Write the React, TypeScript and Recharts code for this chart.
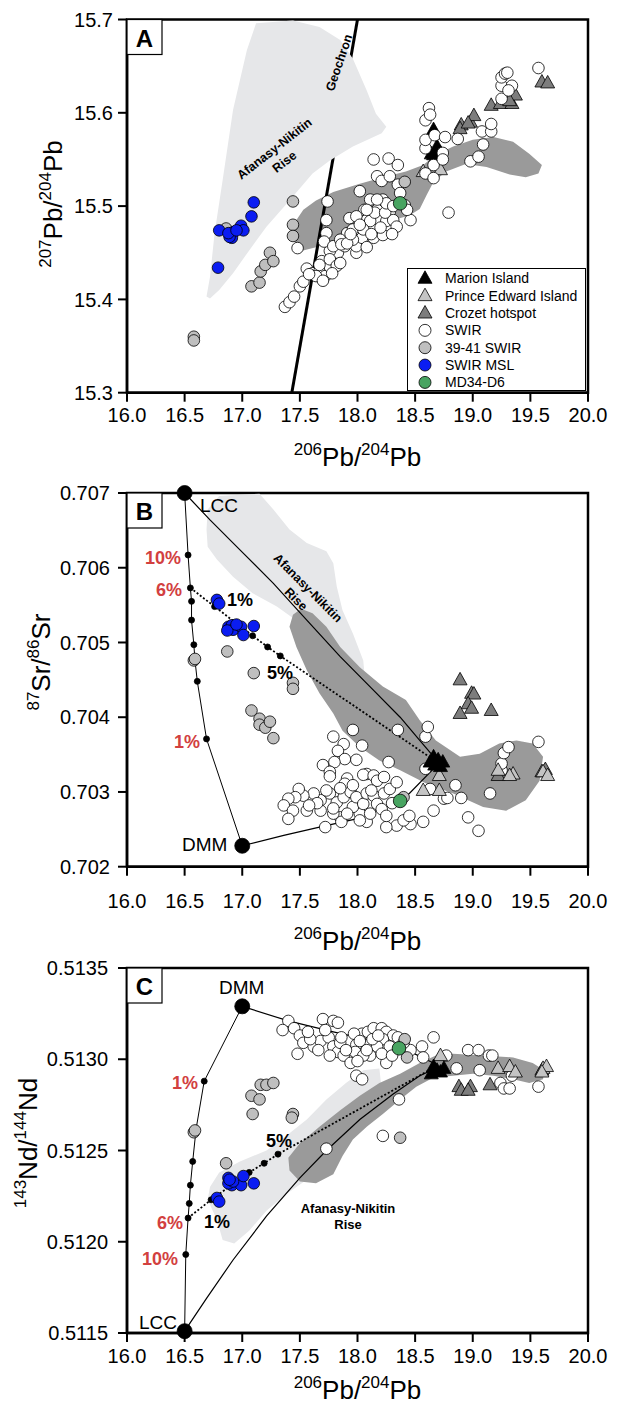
import React from "react";
import { ScatterChart, Scatter, XAxis, YAxis, ReferenceArea, Legend } from "recharts";

const FONT = "'Liberation Sans', Arial, Helvetica, sans-serif";
const RED = "#d2403f";
const LIGHT = "#e6e7e9";
const DARK = "#9a9a9a";

// axis ticks
const PB206_TICKS = [16, 16.5, 17, 17.5, 18, 18.5, 19, 19.5, 20];
const PB207_TICKS = [15.3, 15.4, 15.5, 15.6, 15.7];
const SR_TICKS = [0.702, 0.703, 0.704, 0.705, 0.706, 0.707];
const ND_TICKS = [0.5115, 0.512, 0.5125, 0.513, 0.5135];

// ---------- panel A: 207Pb/204Pb vs 206Pb/204Pb ----------
const SWIR_A = [
  [17.37, 15.392], [17.41, 15.397], [17.45, 15.403], [17.5, 15.414], [17.53, 15.419], [17.56, 15.433],
  [17.48, 15.455], [17.61, 15.428], [17.67, 15.43], [17.69, 15.441], [17.72, 15.425], [17.76, 15.435],
  [17.79, 15.444], [17.83, 15.45], [17.76, 15.452], [17.73, 15.471], [17.71, 15.462], [17.73, 15.485],
  [17.74, 15.505], [17.89, 15.457], [17.91, 15.471], [17.93, 15.487], [17.99, 15.45], [17.99, 15.457],
  [18.0, 15.475], [18.04, 15.466], [18.08, 15.456], [18.02, 15.516], [18.06, 15.496], [18.11, 15.507],
  [18.08, 15.485], [18.14, 15.478], [18.14, 15.466], [18.17, 15.496], [18.19, 15.485], [18.22, 15.507],
  [18.22, 15.469], [18.25, 15.484], [18.28, 15.494], [18.31, 15.485], [18.34, 15.478], [18.35, 15.523],
  [18.37, 15.514], [18.17, 15.532], [18.21, 15.527], [18.28, 15.532], [18.27, 15.551], [18.35, 15.544],
  [18.14, 15.55], [18.41, 15.501], [18.46, 15.485], [18.43, 15.496], [18.59, 15.535], [18.66, 15.53],
  [18.66, 15.544], [18.59, 15.562], [18.59, 15.571], [18.59, 15.592], [18.62, 15.605], [18.63, 15.598],
  [18.67, 15.576], [18.74, 15.557], [18.76, 15.574], [18.74, 15.55], [18.87, 15.572], [18.79, 15.493],
  [18.98, 15.548], [19.05, 15.553], [19.09, 15.566], [19.08, 15.58], [19.16, 15.58], [19.16, 15.588],
  [19.25, 15.615], [19.25, 15.629], [19.25, 15.638], [19.28, 15.642], [19.3, 15.643], [19.34, 15.629],
  [19.31, 15.624], [19.57, 15.648], [17.79, 15.457], [17.85, 15.464], [17.96, 15.464], [17.86, 15.459],
  [17.76, 15.443], [17.82, 15.436], [17.85, 15.439], [17.99, 15.489], [18.11, 15.484], [18.15, 15.493],
  [18.24, 15.493], [18.25, 15.503], [18.31, 15.5], [17.91, 15.46], [17.96, 15.475], [18.05, 15.475],
  [18.08, 15.496], [18.17, 15.507], [17.67, 15.437], [17.64, 15.425], [17.58, 15.427], [17.7, 15.42],
  [17.78, 15.428], [17.94, 15.47], [18.02, 15.48], [18.12, 15.47], [18.2, 15.477], [18.3, 15.47],
];
const GREY_A = [
  [16.58, 15.36], [16.58, 15.356], [17.08, 15.414], [17.15, 15.418], [17.16, 15.43], [17.2, 15.437],
  [17.24, 15.45], [17.27, 15.441], [17.44, 15.505], [17.44, 15.48], [17.44, 15.468], [18.41, 15.526],
  [16.86, 15.476],
];
const MSL_A = [
  [16.8, 15.474], [16.79, 15.434], [17.1, 15.504], [17.08, 15.489], [16.99, 15.479], [17.01, 15.474],
  [16.92, 15.472], [16.91, 15.466], [16.89, 15.467], [16.88, 15.471], [16.95, 15.474],
];
const MD34_A = [[18.37, 15.503]];
const MARION_A = [[18.66, 15.582], [18.69, 15.564], [18.66, 15.555], [18.72, 15.557], [18.64, 15.556]];
const PEI_A = [[18.72, 15.539], [18.57, 15.537], [18.68, 15.553]];
const CROZET_A = [
  [18.9, 15.587], [18.89, 15.583], [18.98, 15.59], [19.01, 15.597], [18.96, 15.589], [19.16, 15.608],
  [19.24, 15.61], [19.34, 15.61], [19.37, 15.619], [19.6, 15.633], [19.65, 15.632], [19.32, 15.613],
];
const AFANASY_A = [
  [16.69, 15.403], [16.72, 15.424], [16.76, 15.471], [16.83, 15.528], [16.92, 15.603], [17.04, 15.667],
  [17.12, 15.696], [17.44, 15.699], [17.67, 15.692], [17.85, 15.678], [17.96, 15.658], [18.08, 15.624],
  [18.16, 15.599], [18.25, 15.585], [18.21, 15.578], [17.96, 15.564], [17.76, 15.549], [17.61, 15.535],
  [17.41, 15.506], [17.21, 15.478], [17.04, 15.449], [16.92, 15.428], [16.8, 15.41], [16.72, 15.401],
];
const FIELD_A = [
  [17.47, 15.485], [17.53, 15.496], [17.64, 15.506], [17.79, 15.515], [18.02, 15.524], [18.22, 15.531],
  [18.42, 15.537], [18.57, 15.544], [18.68, 15.555], [18.83, 15.564], [19.0, 15.571], [19.18, 15.574],
  [19.35, 15.569], [19.49, 15.556], [19.6, 15.544], [19.57, 15.535], [19.46, 15.531], [19.32, 15.534],
  [19.12, 15.542], [18.94, 15.545], [18.77, 15.537], [18.66, 15.526], [18.6, 15.512], [18.54, 15.497],
  [18.45, 15.49], [18.31, 15.485], [18.13, 15.476], [17.96, 15.469], [17.79, 15.462], [17.64, 15.456],
  [17.51, 15.452], [17.46, 15.46], [17.45, 15.474],
];
const GEOCHRON = [[17.43, 15.3], [18.0, 15.7]];

// ---------- panel B: 87Sr/86Sr ----------
const SWIR_B = [
  [17.96, 0.70383], [17.79, 0.70374], [17.88, 0.70364], [17.83, 0.70355], [18.04, 0.70362], [17.99, 0.70343],
  [17.89, 0.70344], [17.8, 0.7034], [17.7, 0.70336], [17.76, 0.70327], [17.76, 0.70321], [17.91, 0.70318],
  [17.89, 0.70311], [18.08, 0.70324], [18.05, 0.70323], [18.14, 0.70322], [18.17, 0.70315], [18.23, 0.7032],
  [18.27, 0.7034], [18.35, 0.70383], [18.59, 0.70374], [18.61, 0.70387], [18.59, 0.70331], [18.63, 0.70304],
  [18.75, 0.70291], [18.78, 0.70292], [18.85, 0.70309], [18.9, 0.70292], [18.96, 0.70266], [19.05, 0.70248],
  [19.15, 0.70298], [19.25, 0.70329], [19.25, 0.70338], [19.27, 0.70352], [19.31, 0.7036], [19.57, 0.70367],
  [18.66, 0.70275], [18.57, 0.7026], [18.46, 0.70257], [18.34, 0.70255], [18.25, 0.70253], [18.08, 0.7026],
  [18.02, 0.70271], [17.96, 0.7028], [17.85, 0.70266], [17.86, 0.7026], [17.79, 0.70271], [17.72, 0.70253],
  [17.68, 0.70275], [17.68, 0.70289], [17.62, 0.70298], [17.53, 0.70295], [17.49, 0.70304], [17.46, 0.70293],
  [17.4, 0.70291], [17.36, 0.70282], [17.44, 0.70275], [17.4, 0.70264], [17.56, 0.70275], [17.76, 0.70298],
  [17.82, 0.70286], [17.88, 0.70293], [17.94, 0.703], [17.99, 0.70293], [18.05, 0.70284], [18.08, 0.70298],
  [18.14, 0.70295], [18.17, 0.70284], [18.21, 0.70277], [18.23, 0.70298], [18.28, 0.70304], [18.34, 0.70313],
  [18.25, 0.70268], [18.11, 0.70271], [17.91, 0.70271], [17.79, 0.70278], [17.73, 0.70302], [17.96, 0.70309],
  [18.02, 0.70262], [17.65, 0.70285], [17.58, 0.70282], [18.3, 0.70285], [18.4, 0.70262], [18.12, 0.70302],
  [17.85, 0.70305], [18.45, 0.70268],
];
const GREY_B = [
  [16.87, 0.70488], [16.58, 0.70476], [16.59, 0.70478], [17.1, 0.70459], [17.08, 0.70409], [17.15, 0.70398],
  [17.15, 0.7039], [17.2, 0.70386], [17.24, 0.70394], [17.27, 0.70372], [17.44, 0.70446], [17.44, 0.70438],
  [18.4, 0.70293],
];
const MSL_B = [
  [16.78, 0.70557], [16.8, 0.70552], [16.88, 0.70521], [16.91, 0.70523], [16.92, 0.70517], [16.99, 0.70521],
  [17.01, 0.7051], [17.1, 0.70522], [16.87, 0.70516], [16.95, 0.70524],
];
const MD34_B = [[18.37, 0.70288]];
const MARION_B = [
  [18.66, 0.70347], [18.7, 0.70343], [18.74, 0.7034], [18.67, 0.70336], [18.72, 0.70334], [18.63, 0.7034],
  [18.69, 0.70338],
];
const PEI_B = [
  [18.71, 0.70322], [18.57, 0.70302], [18.71, 0.70302], [19.22, 0.70329], [19.35, 0.70324], [19.32, 0.70322],
  [19.61, 0.70327], [19.65, 0.70322],
];
const CROZET_B = [
  [18.89, 0.7045], [18.99, 0.70432], [19.01, 0.70431], [18.96, 0.70418], [18.99, 0.70412], [18.89, 0.70405],
  [19.16, 0.70409], [19.6, 0.70327], [19.63, 0.7033], [19.22, 0.70322],
];
const AFANASY_B = [
  [16.69, 0.70651], [16.7, 0.70678], [16.8, 0.70696], [17.15, 0.70699], [17.27, 0.70678], [17.41, 0.70651],
  [17.56, 0.70633], [17.73, 0.70622], [17.79, 0.70606], [17.82, 0.70575], [17.87, 0.70543], [17.96, 0.70512],
  [18.05, 0.70476], [18.06, 0.70459], [17.96, 0.70472], [17.85, 0.7049], [17.67, 0.70508], [17.5, 0.70526],
  [17.3, 0.70548], [17.09, 0.70566], [16.92, 0.70588], [16.78, 0.70611], [16.7, 0.70628],
];
const FIELD_B = [
  [17.41, 0.70521], [17.44, 0.70537], [17.51, 0.70545], [17.61, 0.70539], [17.73, 0.70521], [17.85, 0.70494],
  [18.02, 0.70467], [18.22, 0.70441], [18.42, 0.70423], [18.54, 0.70396], [18.68, 0.70369], [18.89, 0.70347],
  [19.06, 0.70351], [19.23, 0.70365], [19.38, 0.70369], [19.52, 0.70365], [19.61, 0.70347], [19.58, 0.70315],
  [19.46, 0.70289], [19.29, 0.70275], [19.09, 0.7028], [18.83, 0.70298], [18.6, 0.70311], [18.37, 0.70329],
  [18.19, 0.70342], [18.02, 0.7036], [17.87, 0.70382], [17.79, 0.70405], [17.67, 0.70432], [17.56, 0.70463],
  [17.47, 0.70494],
];
const DMM_B = [[17.0, 0.70228]];
const LCC_B = [[16.5, 0.707]];
const DMM_LCC_B = [
  [17.0, 0.70228], [16.69, 0.70371], [16.61, 0.70448], [16.59, 0.70476], [16.58, 0.70497], [16.56, 0.7053],
  [16.56, 0.70555], [16.55, 0.70573], [16.53, 0.70617], [16.5, 0.707],
];
const TICKS_DMM_LCC_B = [
  [16.69, 0.70371], [16.61, 0.70448], [16.59, 0.70476], [16.58, 0.70497], [16.56, 0.7053], [16.56, 0.70555],
  [16.55, 0.70573], [16.53, 0.70617],
];
const MSL_MIX_B = [[16.55, 0.70573], [16.76, 0.70548], [17.09, 0.70509], [17.22, 0.70494], [17.33, 0.70482], [18.69, 0.7034]];
const TICKS_MSL_MIX_B = [[16.76, 0.70548], [17.09, 0.70509], [17.22, 0.70494], [17.33, 0.70482]];
const LCC_SWIR_B = [
  [16.5, 0.707], [16.72, 0.70664], [16.98, 0.70624], [17.27, 0.70579], [17.56, 0.7053], [17.85, 0.70481],
  [18.14, 0.70436], [18.37, 0.704], [18.54, 0.70369], [18.69, 0.70342],
];
const DMM_SWIR_B = [
  [17.0, 0.70228], [17.36, 0.70242], [17.67, 0.70253], [17.99, 0.70264], [18.25, 0.7028], [18.45, 0.70298],
  [18.69, 0.70336],
];

// ---------- panel C: 143Nd/144Nd ----------
const SWIR_C = [
  [17.4, 0.51321], [17.35, 0.51316], [17.45, 0.51317], [17.5, 0.51313], [17.53, 0.51309], [17.62, 0.51307],
  [17.48, 0.51303], [17.7, 0.51322], [17.79, 0.51321], [17.83, 0.5132], [17.68, 0.5131], [17.75, 0.51312],
  [17.79, 0.51307], [17.83, 0.51304], [17.76, 0.51302], [17.88, 0.51302], [17.92, 0.5131], [17.99, 0.51308],
  [17.98, 0.51304], [18.04, 0.51314], [18.09, 0.51315], [18.14, 0.51317], [18.21, 0.51317], [18.25, 0.51315],
  [18.31, 0.51313], [18.35, 0.51312], [18.22, 0.51311], [18.17, 0.51307], [18.11, 0.51302], [18.05, 0.51302],
  [18.08, 0.51305], [18.28, 0.51307], [18.25, 0.51298], [18.21, 0.51303], [18.46, 0.51305], [18.56, 0.51307],
  [18.57, 0.51301], [18.66, 0.51312], [18.77, 0.51302], [18.86, 0.51295], [18.96, 0.51305], [19.05, 0.51305],
  [19.14, 0.51302], [19.17, 0.51302], [19.06, 0.51294], [19.24, 0.51287], [19.27, 0.51284], [19.32, 0.51284],
  [19.34, 0.51291], [19.57, 0.51285], [17.99, 0.51291], [18.04, 0.51289], [18.36, 0.51278], [18.22, 0.51258],
  [17.73, 0.51251], [17.97, 0.51314], [17.85, 0.51309], [17.59, 0.51311], [17.66, 0.51305], [17.9, 0.51305],
  [17.94, 0.51298], [18.0, 0.51299], [18.13, 0.51311], [18.4, 0.51309], [17.57, 0.51315], [17.86, 0.51312],
  [18.02, 0.5131], [18.18, 0.51313], [18.3, 0.51302], [17.72, 0.51316],
];
const GREY_C = [
  [16.86, 0.51243], [16.58, 0.5126], [16.59, 0.51261], [17.08, 0.5128], [17.15, 0.51278], [17.16, 0.51286],
  [17.21, 0.51286], [17.27, 0.51287], [17.09, 0.5127], [17.44, 0.5127], [17.43, 0.51268], [18.37, 0.51257],
  [18.41, 0.51311], [18.43, 0.51301],
];
const MSL_C = [
  [16.78, 0.51224], [16.8, 0.51222], [16.88, 0.51235], [16.91, 0.51231], [16.99, 0.51231], [17.01, 0.51236],
  [17.1, 0.51232], [16.88, 0.51232], [16.92, 0.51233], [16.89, 0.51234],
];
const MD34_C = [[18.36, 0.51306]];
const MARION_C = [[18.69, 0.51294], [18.66, 0.51296], [18.72, 0.51293], [18.75, 0.51295], [18.64, 0.51292]];
const PEI_C = [
  [18.72, 0.51302], [19.22, 0.51295], [19.32, 0.51296], [19.37, 0.51293], [19.61, 0.51295], [19.64, 0.51296],
  [19.6, 0.51293],
];
const CROZET_C = [[18.88, 0.51285], [18.9, 0.51283], [18.98, 0.51285], [18.96, 0.51283], [19.15, 0.51286], [19.6, 0.51294]];
const AFANASY_C = [
  [16.7, 0.51223], [16.72, 0.5123], [16.8, 0.51238], [16.98, 0.51244], [17.21, 0.5125], [17.38, 0.51258],
  [17.56, 0.51267], [17.73, 0.51278], [17.9, 0.51287], [18.05, 0.51294], [18.19, 0.51295], [18.21, 0.51283],
  [18.16, 0.5127], [18.08, 0.51263], [17.9, 0.51254], [17.73, 0.51245], [17.56, 0.51234], [17.38, 0.51226],
  [17.21, 0.51217], [17.06, 0.51206], [16.93, 0.51199], [16.83, 0.51201], [16.78, 0.51212],
];
const FIELD_C = [
  [17.4, 0.51246], [17.5, 0.51254], [17.67, 0.51263], [17.85, 0.51272], [18.02, 0.5128], [18.19, 0.51287],
  [18.37, 0.51292], [18.54, 0.51298], [18.68, 0.51302], [18.83, 0.51303], [19.09, 0.51302], [19.35, 0.51301],
  [19.52, 0.51298], [19.62, 0.51294], [19.61, 0.51289], [19.49, 0.51287], [19.35, 0.51289], [19.18, 0.51291],
  [19.0, 0.51292], [18.83, 0.51291], [18.66, 0.5129], [18.51, 0.51285], [18.37, 0.51278], [18.22, 0.5127],
  [18.08, 0.51263], [17.96, 0.51256], [17.87, 0.51247], [17.79, 0.51237], [17.64, 0.51232], [17.5, 0.51233],
  [17.41, 0.51239],
];
const DMM_C = [[17.0, 0.51329]];
const LCC_C = [[16.5, 0.51151]];
const DMM_LCC_C = [
  [17.0, 0.51329], [16.67, 0.51288], [16.6, 0.51262], [16.57, 0.51244], [16.55, 0.51231], [16.54, 0.51221],
  [16.53, 0.51213], [16.51, 0.51193], [16.5, 0.51151],
];
const TICKS_DMM_LCC_C = [
  [16.67, 0.51288], [16.6, 0.51262], [16.57, 0.51244], [16.55, 0.51231], [16.54, 0.51221], [16.53, 0.51213],
  [16.51, 0.51193],
];
const MSL_MIX_C = [[16.53, 0.51213], [16.73, 0.51223], [17.06, 0.51238], [17.19, 0.51243], [17.31, 0.51248], [18.68, 0.51296]];
const TICKS_MSL_MIX_C = [[16.73, 0.51223], [17.06, 0.51238], [17.19, 0.51243], [17.31, 0.51248]];
const LCC_SWIR_C = [
  [16.5, 0.51151], [16.69, 0.51169], [16.92, 0.5119], [17.21, 0.51214], [17.5, 0.51235], [17.73, 0.5125],
  [18.02, 0.51267], [18.31, 0.51281], [18.54, 0.51291], [18.68, 0.51295],
];
const DMM_SWIR_C = [[17.0, 0.51329], [17.4, 0.51321], [17.79, 0.51315], [18.14, 0.5131], [18.43, 0.51305], [18.69, 0.51297]];

// legend entries
const LEGEND = [
  { name: "Marion Island", kind: "tri", fill: "#000000" },
  { name: "Prince Edward Island", kind: "tri", fill: "#c4c4c4" },
  { name: "Crozet hotspot", kind: "tri", fill: "#7d7d7d" },
  { name: "SWIR", kind: "dot", fill: "#ffffff" },
  { name: "39-41 SWIR", kind: "dot", fill: "#bfbfbf" },
  { name: "SWIR MSL", kind: "dot", fill: "#0b1df2" },
  { name: "MD34-D6", kind: "dot", fill: "#48a461" },
];
const COLOR: Record<string, string> = {};
LEGEND.forEach((e) => (COLOR[e.name] = e.fill));

const pts = (a: number[][]) => a.map(([x, y]) => ({ x, y }));

const NONE = () => <g />;
const dot = (fill: string, r = 5.8) => (p: any) => (
  <circle cx={p.cx} cy={p.cy} r={r} fill={fill} stroke="#000" strokeWidth={0.8} />
);
const tri = (fill: string) => (p: any) => (
  <path
    d={`M${p.cx},${p.cy - 7.5}L${p.cx + 7},${p.cy + 5}L${p.cx - 7},${p.cy + 5}Z`}
    fill={fill}
    stroke="#000"
    strokeWidth={0.8}
  />
);

const area = (key: string, d: number[][], fill: string) => (
  <Scatter
    key={key}
    data={pts(d)}
    shape={NONE}
    line={{ fill, stroke: "none" }}
    lineJointType="linearClosed"
    isAnimationActive={false}
  />
);
const curve = (key: string, d: number[][], stroke: any) => (
  <Scatter key={key} data={pts(d)} shape={NONE} line={{ fill: "none", ...stroke }} isAnimationActive={false} />
);
const marks = (key: string, d: number[][], shape: any) => (
  <Scatter key={key} data={pts(d)} shape={shape} isAnimationActive={false} />
);

const circles = (s: any) => [
  marks("swir", s.swir, dot(COLOR["SWIR"])),
  marks("grey", s.grey, dot(COLOR["39-41 SWIR"])),
  marks("msl", s.msl, dot(COLOR["SWIR MSL"])),
  marks("md34", s.md34, dot(COLOR["MD34-D6"], 6.8)),
];
const triangles = (s: any) => [
  marks("crozet", s.crozet, tri(COLOR["Crozet hotspot"])),
  marks("pei", s.pei, tri(COLOR["Prince Edward Island"])),
  marks("marion", s.marion, tri(COLOR["Marion Island"])),
];

const xAxis = (tickMargin: number) => (
  <XAxis
    type="number"
    dataKey="x"
    domain={[16, 20]}
    ticks={PB206_TICKS}
    interval={0}
    tickFormatter={(v: number) => v.toFixed(1)}
    tick={{ fill: "#000", fontSize: 20, fontFamily: FONT }}
    tickLine={{ stroke: "#000", strokeWidth: 2 }}
    axisLine={{ stroke: "#000", strokeWidth: 2.5 }}
    tickSize={9}
    tickMargin={tickMargin}
    height={30}
  />
);
const yAxis = (domain: number[], ticks: number[], digits: number, tickMargin: number) => (
  <YAxis
    type="number"
    dataKey="y"
    domain={domain}
    ticks={ticks}
    interval={0}
    width={80}
    tickFormatter={(v: number) => v.toFixed(digits)}
    tick={{ fill: "#000", fontSize: 20, fontFamily: FONT }}
    tickLine={{ stroke: "#000", strokeWidth: 2 }}
    axisLine={{ stroke: "#000", strokeWidth: 2.5 }}
    tickSize={9}
    tickMargin={tickMargin}
  />
);
const frame = (y1: number, y2: number) => (
  <ReferenceArea x1={16} x2={20} y1={y1} y2={y2} fill="none" fillOpacity={0} stroke="#000" strokeWidth={2.5} />
);

function LegendBox() {
  return (
    <svg width={179} height={123} style={{ display: "block" }}>
      <rect x={0.5} y={0.5} width={178} height={122} fill="#fff" stroke="#000" strokeWidth={1} />
      {LEGEND.map((e, i) => {
        const cy = 10.3 + i * 17.35;
        return (
          <g key={e.name}>
            {e.kind === "tri" ? (
              <path d={`M18,${cy - 7.5}L25,${cy + 5}L11,${cy + 5}Z`} fill={e.fill} stroke="#000" strokeWidth={0.8} />
            ) : (
              <circle cx={18} cy={cy} r={6} fill={e.fill} stroke="#000" strokeWidth={0.8} />
            )}
            <text x={38} y={cy + 5} fontSize={14} fontFamily={FONT} fill="#000">
              {e.name}
            </text>
          </g>
        );
      })}
    </svg>
  );
}

function PanelA() {
  const s = {
    swir: SWIR_A, grey: GREY_A, msl: MSL_A, md34: MD34_A,
    crozet: CROZET_A, pei: PEI_A, marion: MARION_A,
  };
  return (
    <ScatterChart width={624} height={480} margin={{ top: 19.5, right: 36, bottom: 57.3, left: 47 }}>
      {xAxis(6)}
      {yAxis([15.3, 15.7], PB207_TICKS, 1, 5)}
      {area("field", FIELD_A, DARK)}
      {curve("geochron", GEOCHRON, { stroke: "#000", strokeWidth: 3 })}
      {area("afanasy", AFANASY_A, LIGHT)}
      {triangles(s)}
      {circles(s)}
      {frame(15.3, 15.7)}
      <Legend
        layout="vertical"
        align="center"
        verticalAlign="middle"
        content={() => <LegendBox />}
        wrapperStyle={{ left: 407, top: 268, width: 179, height: 123, margin: 0 }}
      />
    </ScatterChart>
  );
}

function PanelB() {
  const s = {
    swir: SWIR_B, grey: GREY_B, msl: MSL_B, md34: MD34_B,
    crozet: CROZET_B, pei: PEI_B, marion: MARION_B,
  };
  return (
    <ScatterChart width={624} height={480} margin={{ top: 13, right: 36, bottom: 63.3, left: 47 }}>
      {xAxis(18)}
      {yAxis([0.702, 0.707], SR_TICKS, 3, 8)}
      {area("afanasy", AFANASY_B, LIGHT)}
      {area("field", FIELD_B, DARK)}
      {curve("dmm-lcc", DMM_LCC_B, { stroke: "#000", strokeWidth: 1 })}
      {curve("lcc-swir", LCC_SWIR_B, { stroke: "#000", strokeWidth: 1.2 })}
      {curve("dmm-swir", DMM_SWIR_B, { stroke: "#000", strokeWidth: 1.2 })}
      {curve("msl-mix", MSL_MIX_B, { stroke: "#000", strokeWidth: 1.8, strokeDasharray: "2 2" })}
      {marks("ticks1", TICKS_DMM_LCC_B, dot("#000", 3))}
      {marks("ticks2", TICKS_MSL_MIX_B, dot("#000", 3))}
      {circles(s)}
      {triangles(s)}
      {marks("dmm", DMM_B, dot("#000", 7.5))}
      {marks("lcc", LCC_B, dot("#000", 7.5))}
      {frame(0.702, 0.707)}
    </ScatterChart>
  );
}

function PanelC() {
  const s = {
    swir: SWIR_C, grey: GREY_C, msl: MSL_C, md34: MD34_C,
    crozet: CROZET_C, pei: PEI_C, marion: MARION_C,
  };
  return (
    <ScatterChart width={624} height={466} margin={{ top: 28, right: 36, bottom: 43, left: 47 }}>
      {xAxis(7)}
      {yAxis([0.5115, 0.5135], ND_TICKS, 4, 10)}
      {area("afanasy", AFANASY_C, LIGHT)}
      {area("field", FIELD_C, DARK)}
      {curve("dmm-lcc", DMM_LCC_C, { stroke: "#000", strokeWidth: 1 })}
      {curve("lcc-swir", LCC_SWIR_C, { stroke: "#000", strokeWidth: 1.2 })}
      {curve("dmm-swir", DMM_SWIR_C, { stroke: "#000", strokeWidth: 1.2 })}
      {curve("msl-mix", MSL_MIX_C, { stroke: "#000", strokeWidth: 1.8, strokeDasharray: "2 2" })}
      {marks("ticks1", TICKS_DMM_LCC_C, dot("#000", 3))}
      {marks("ticks2", TICKS_MSL_MIX_C, dot("#000", 3))}
      {circles(s)}
      {triangles(s)}
      {marks("dmm", DMM_C, dot("#000", 7.5))}
      {marks("lcc", LCC_C, dot("#000", 7.5))}
      {frame(0.5115, 0.5135)}
    </ScatterChart>
  );
}

// isotope ratio title with superscript mass numbers
function Ratio({ x, y, top, bottom, el, vertical }: any) {
  return (
    <text
      x={x}
      y={y}
      textAnchor="middle"
      fontFamily={FONT}
      fontSize={26}
      fill="#000"
      transform={vertical ? `rotate(-90 ${x} ${y})` : undefined}
    >
      <tspan fontSize={17} dy={-11}>{top}</tspan>
      <tspan dy={11}>{el}/</tspan>
      <tspan fontSize={17} dy={-11}>{bottom}</tspan>
      <tspan dy={11}>{el}</tspan>
    </text>
  );
}

function PanelTag({ y, label }: { y: number; label: string }) {
  return (
    <g>
      <rect x={127} y={y} width={35} height={35} fill="#fff" stroke="#000" strokeWidth={1.2} />
      <text x={144.5} y={y + 27} textAnchor="middle" fontFamily={FONT} fontSize={24} fontWeight="bold">
        {label}
      </text>
    </g>
  );
}

const Note = ({ x, y, children, color = "#000", size = 18, bold = true, anchor = "start", rotate = 0 }: any) => (
  <text
    x={x}
    y={y}
    fill={color}
    fontSize={size}
    fontWeight={bold ? "bold" : "normal"}
    fontFamily={FONT}
    textAnchor={anchor}
    transform={rotate ? `rotate(${rotate} ${x} ${y})` : undefined}
  >
    {children}
  </text>
);

export default function App() {
  return (
    <div style={{ position: "absolute", left: 0, top: 0, width: 624, height: 1406, background: "#fff" }}>
      <div style={{ position: "absolute", left: 0, top: 0 }}>
        <PanelA />
      </div>
      <div style={{ position: "absolute", left: 0, top: 480 }}>
        <PanelB />
      </div>
      <div style={{ position: "absolute", left: 0, top: 940 }}>
        <PanelC />
      </div>
      <svg
        width={624}
        height={1406}
        style={{ position: "absolute", left: 0, top: 0, pointerEvents: "none" }}
      >
        {/* panel A */}
        <PanelTag y={19.5} label="A" />
        <Note x={277} y={152} size={12.5} anchor="middle" rotate={-38}>Afanasy-Nikitin</Note>
        <Note x={287} y={165} size={12.5} anchor="middle" rotate={-38}>Rise</Note>
        <Note x={343} y={64} size={12.5} anchor="middle" rotate={-71}>Geochron</Note>
        <Ratio x={357.5} y={466} top="206" bottom="204" el="Pb" />
        <Ratio x={62} y={204} top="207" bottom="204" el="Pb" vertical />

        {/* panel B */}
        <PanelTag y={493} label="B" />
        <Note x={200} y={512} size={19} bold={false}>LCC</Note>
        <Note x={182} y={851} size={19} bold={false}>DMM</Note>
        <Note x={145} y={564} color={RED}>10%</Note>
        <Note x={156} y={596} color={RED}>6%</Note>
        <Note x={174} y={748} color={RED}>1%</Note>
        <Note x={227} y={606}>1%</Note>
        <Note x={267} y={679}>5%</Note>
        <Note x={305} y={591} size={12.5} anchor="middle" rotate={45}>Afanasy-Nikitin</Note>
        <Note x={293} y={602} size={12.5} anchor="middle" rotate={45}>Rise</Note>
        <Ratio x={357.5} y={950} top="206" bottom="204" el="Pb" />
        <Ratio x={50} y={662} top="87" bottom="86" el="Sr" vertical />

        {/* panel C */}
        <PanelTag y={968} label="C" />
        <Note x={219} y={994} size={19} bold={false}>DMM</Note>
        <Note x={139} y={1329} size={19} bold={false}>LCC</Note>
        <Note x={172} y={1089} color={RED}>1%</Note>
        <Note x={157} y={1229} color={RED}>6%</Note>
        <Note x={142} y={1265} color={RED}>10%</Note>
        <Note x={266} y={1147}>5%</Note>
        <Note x={204} y={1228}>1%</Note>
        <Note x={348} y={1213} size={13} anchor="middle">Afanasy-Nikitin</Note>
        <Note x={348} y={1229} size={13} anchor="middle">Rise</Note>
        <Ratio x={357.5} y={1399} top="206" bottom="204" el="Pb" />
        <Ratio x={37} y={1143} top="143" bottom="144" el="Nd" vertical />
      </svg>
    </div>
  );
}
